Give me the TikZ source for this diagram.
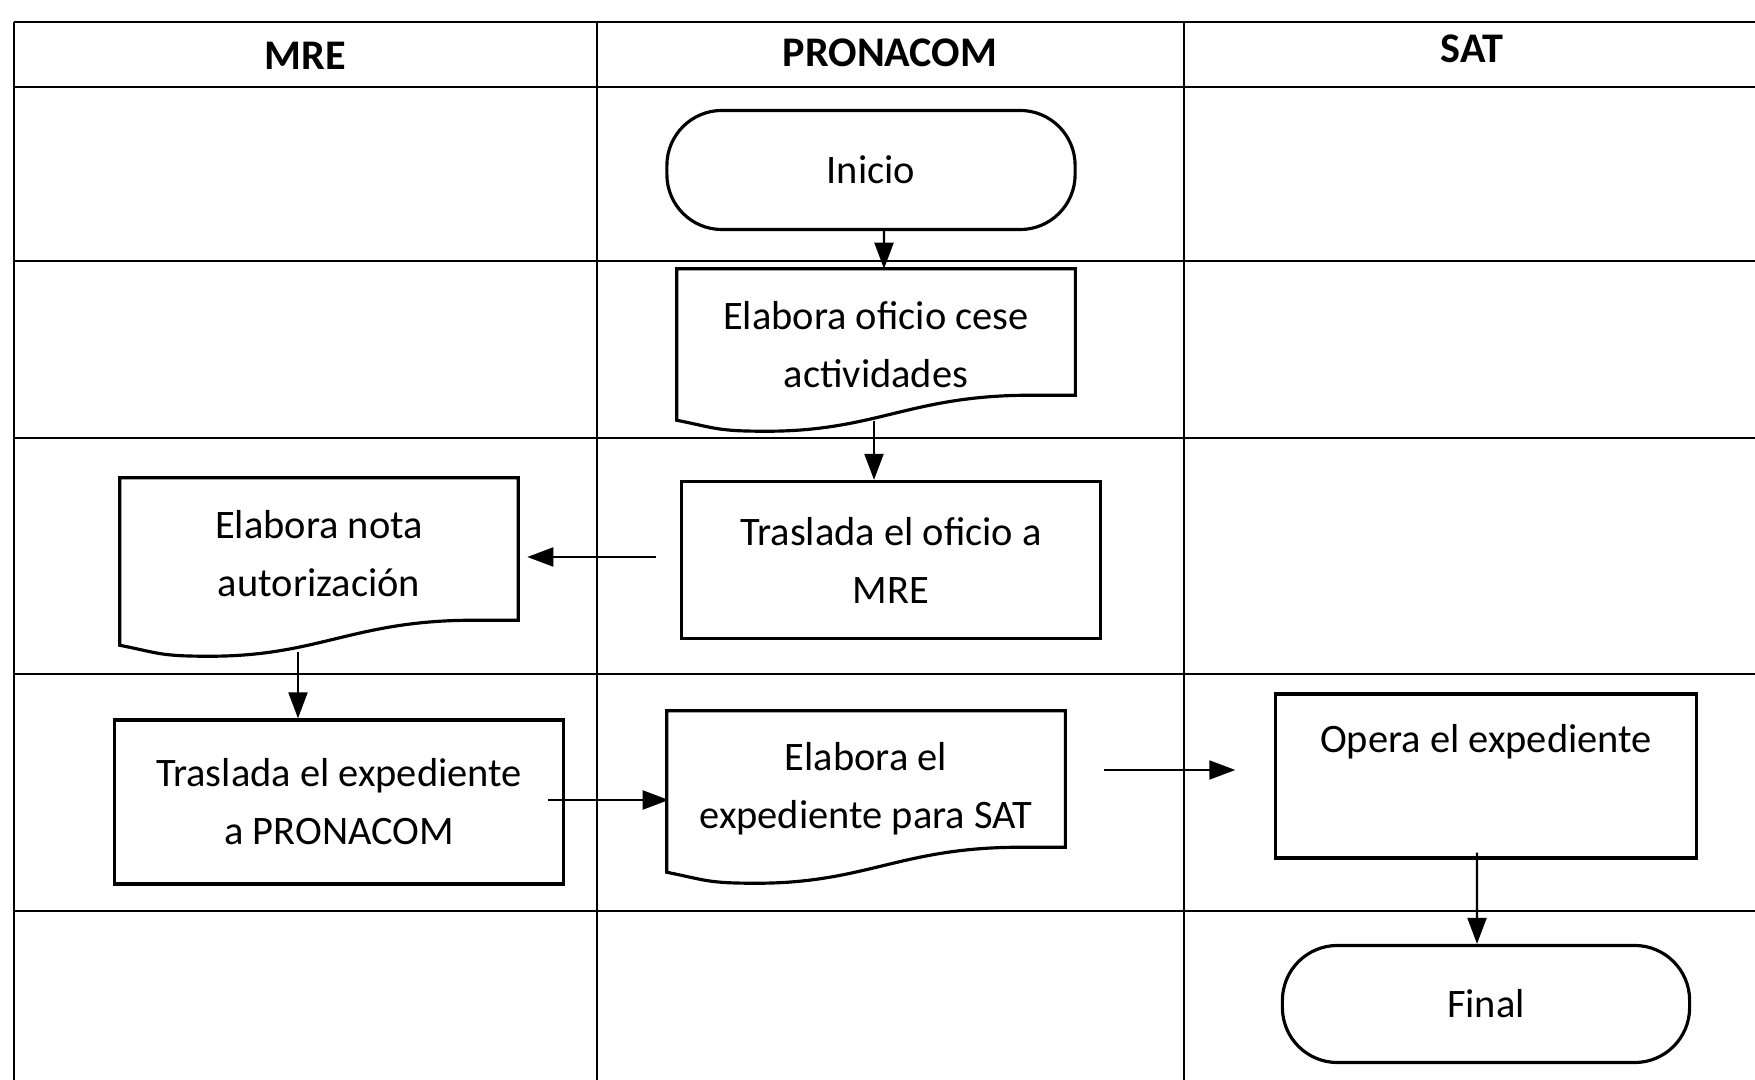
\documentclass[tikz,border=0pt]{standalone}
\usepackage{fontspec}
\setmainfont{Carlito}
\usetikzlibrary{arrows.meta,calc,shapes.misc}

\newcommand{\texto}{\fontsize{11.5}{16.5}\selectfont}
\newcommand{\baja}[1]{\rule{0pt}{#1}}
\newcommand{\hoja}[1]{%
  \draw[borde] (#1.north west) -- (#1.north east) -- (#1.south east) -- ++(-45,0)
    .. controls +(-120,0) and +(110,0) .. ($(#1.south west)+(90,36)$)
    .. controls +(-50,0) and +(40,8) .. ($(#1.south west)+(0,25)$) -- cycle;}

\begin{document}
\begin{tikzpicture}[x=0.01cm, y=-0.01cm,
    tabla/.style={line width=0.6pt},
    borde/.style={line width=0.9pt},
    cab/.style={font=\fontsize{12}{14}\selectfont\bfseries},
    proc/.style={draw, borde, rectangle, align=center, font=\texto},
    term/.style={draw, borde, rectangle, rounded corners=0.55cm, align=center, font=\texto},
    hojadoc/.style={rectangle, align=center, font=\texto, inner ysep=0pt, minimum width=3.97cm},
    flecha/.style={line width=0.6pt, -{Triangle[length=2.6mm,width=1.9mm]}}]
  \useasboundingbox (0,0) rectangle (1755,1080);
  \fill[white] (0,0) rectangle (1755,1080);

  \foreach \y in {22,87,261,438,674,911} {
    \draw[tabla] (14,\y) -- (1755,\y);
  }
  \foreach \x in {14,597,1184} {
    \draw[tabla] (\x,22) -- (\x,1080);
  }

  \node[cab] (mre) at (305,56) {MRE};
  \node[cab] (pronacom) at (890,53) {PRONACOM};
  \node[cab] (sat) at (1472,49) {SAT};

  \node[term, minimum width=4.08cm, minimum height=1.19cm] (inicio) at (871,170) {Inicio};
  \node[hojadoc, minimum height=1.25cm] (oficio) at (876,332) {\baja{15pt}Elabora oficio cese\\actividades};
  \hoja{oficio}
  \node[proc, minimum width=4.19cm, minimum height=1.57cm] (trasOficio) at (891,560) {Traslada el oficio a\\MRE};
  \node[hojadoc, minimum height=1.41cm] (nota) at (319,549) {\baja{10.7pt}Elabora nota\\autorización};
  \hoja{nota}
  \node[proc, minimum width=4.48cm, minimum height=1.64cm] (trasExp) at (339,802) {Traslada el expediente\\a PRONACOM};
  \node[hojadoc, minimum height=1.35cm] (expSAT) at (866,779) {\baja{13.6pt}Elabora el\\expediente para SAT};
  \hoja{expSAT}
  \node[proc, minimum width=4.2cm, minimum height=1.64cm] (opera) at (1486,776) {Opera el expediente\\\strut};
  \node[term, minimum width=4.07cm, minimum height=1.17cm] (final) at (1486,1004) {Final};

  \draw[flecha] ([xshift=0.13cm]inicio.south) -- ([xshift=0.08cm]oficio.north);
  \draw[flecha] ($(oficio.south)+(-2,26)$) -- ($(trasOficio.north)+(-17,0)$);
  \draw[flecha] ([shift={(-24,-3)}]trasOficio.west) -- ([shift={(9,8)}]nota.east);
  \draw[flecha] ($(nota.south)+(-21,32)$) -- ($(trasExp.north)+(-41,0)$);
  \draw[flecha] ([shift={(-17,-2)}]trasExp.east) -- ([shift={(2,-2)}]trasExp.east -| expSAT.west);
  \draw[flecha] ([shift={(39,-9)}]expSAT.east) -- ([shift={(-39,-6)}]opera.west);
  \draw[flecha] ([shift={(-9,-7)}]opera.south) -- ([xshift=-0.09cm]final.north);
\end{tikzpicture}
\end{document}
